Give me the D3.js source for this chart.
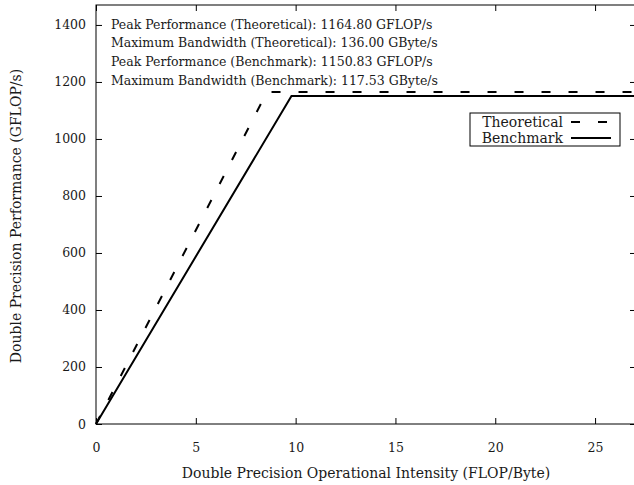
<!DOCTYPE html>
<html>
<head>
<meta charset="utf-8">
<script src="https://cdn.jsdelivr.net/npm/d3@7"></script>
<style>
  body { margin: 0; background: #fff; }
  svg text { font-family: "DejaVu Serif", serif; font-size: 12.5px; fill: #1a1a1a; }
  .axis path, .axis line { stroke: #000; }
  .title, .legend text { font-size: 14px; }
</style>
</head>
<body>
<div id="chart"></div>
<script>
// roofline values
const seriesNames = ["Theoretical", "Benchmark"];
const peakGflops = [1164.80, 1150.83];
const bandwidthGBs = [136.00, 117.53];
const xTicks = [0, 5, 10, 15, 20, 25];
const yTicks = [0, 200, 400, 600, 800, 1000, 1200, 1400];
const xMax = 27.05;
const yMax = 1470;

const W = 634, H = 485;
const margin = { left: 96, top: 5, right: -2, bottom: 61 };
const innerW = W - margin.left - margin.right;
const innerH = H - margin.top - margin.bottom;

const svg = d3.select('#chart').append('svg')
    .attr('width', W)
    .attr('height', H);
const g = svg.append('g')
    .attr('transform', 'translate(' + margin.left + ',' + margin.top + ')');

const xScale = d3.scaleLinear().domain([0, xMax]).range([0, innerW]);
const yScale = d3.scaleLinear().domain([0, yMax]).range([innerH, 0]);

// frame
g.append('rect')
    .attr('width', innerW).attr('height', innerH)
    .attr('fill', 'none').attr('stroke', '#000').attr('stroke-width', 1);

// axes (ticks pointing inward, mirrored like gnuplot)
const xAxis = d3.axisBottom(xScale).tickValues(xTicks).tickSizeInner(-6).tickSizeOuter(0).tickPadding(19);
const yAxis = d3.axisLeft(yScale).tickValues(yTicks).tickFormat(d3.format('d'))
    .tickSizeInner(-6).tickSizeOuter(0).tickPadding(10);
g.append('g').attr('class', 'x axis')
    .attr('transform', 'translate(0,' + innerH + ')')
    .call(xAxis)
    .call(s => s.select('.domain').remove());
g.append('g').attr('class', 'y axis')
    .call(yAxis)
    .call(s => s.select('.domain').remove());
g.append('g').attr('class', 'axis')
    .call(d3.axisTop(xScale).tickValues(xTicks).tickSizeInner(-6).tickSizeOuter(0).tickFormat(''))
    .call(s => s.select('.domain').remove());
g.append('g').attr('class', 'axis')
    .attr('transform', 'translate(' + innerW + ',0)')
    .call(d3.axisRight(yScale).tickValues(yTicks).tickSizeInner(-6).tickSizeOuter(0).tickFormat(''))
    .call(s => s.select('.domain').remove());
svg.selectAll('.axis text')
    .style('font-size', '12.5px')
    .style('font-family', '"DejaVu Serif", serif')
    .style('fill', '#1a1a1a');

// roofline lines
const roofs = seriesNames.map((name, i) => {
    const ridge = peakGflops[i] / bandwidthGBs[i];
    return { name: name, pts: [[0, 0], [ridge, peakGflops[i]], [xMax, peakGflops[i]]] };
});
const line = d3.line().x(d => xScale(d[0])).y(d => yScale(d[1]));
const dashes = ['9,18', null];

g.selectAll('.roof')
    .data(roofs)
    .enter().append('path')
    .attr('class', 'roof')
    .attr('d', d => line(d.pts))
    .attr('fill', 'none')
    .attr('stroke', '#000')
    .attr('stroke-width', 2)
    .attr('stroke-dasharray', (d, i) => dashes[i]);

// info text
const info = [
    'Peak Performance (Theoretical): ' + peakGflops[0].toFixed(2) + ' GFLOP/s',
    'Maximum Bandwidth (Theoretical): ' + bandwidthGBs[0].toFixed(2) + ' GByte/s',
    'Peak Performance (Benchmark): ' + peakGflops[1].toFixed(2) + ' GFLOP/s',
    'Maximum Bandwidth (Benchmark): ' + bandwidthGBs[1].toFixed(2) + ' GByte/s'
];
g.selectAll('.info')
    .data(info)
    .enter().append('text')
    .attr('class', 'info')
    .attr('x', 15)
    .attr('y', (d, i) => 23.5 + i * 18.7)
    .text(d => d);

// legend
const lg = g.append('g').attr('class', 'legend').attr('transform', 'translate(374,108)');
lg.append('rect').attr('width', 150).attr('height', 33)
    .attr('fill', '#fff').attr('stroke', '#000');
seriesNames.forEach((name, i) => {
    const y = 9 + i * 16;
    lg.append('text').attr('x', 93).attr('y', y + 5).attr('text-anchor', 'end').text(name);
    lg.append('line').attr('x1', 101).attr('x2', 141).attr('y1', y).attr('y2', y)
        .attr('stroke', '#000').attr('stroke-width', 2)
        .attr('stroke-dasharray', dashes[i]);
});

// axis titles
svg.append('text')
    .attr('class', 'title')
    .attr('x', 366).attr('y', 478)
    .attr('text-anchor', 'middle')
    .text('Double Precision Operational Intensity (FLOP/Byte)');
svg.append('text')
    .attr('class', 'title')
    .attr('transform', 'translate(21,216) rotate(-90)')
    .attr('text-anchor', 'middle')
    .text('Double Precision Performance (GFLOP/s)');
</script>
</body>
</html>
